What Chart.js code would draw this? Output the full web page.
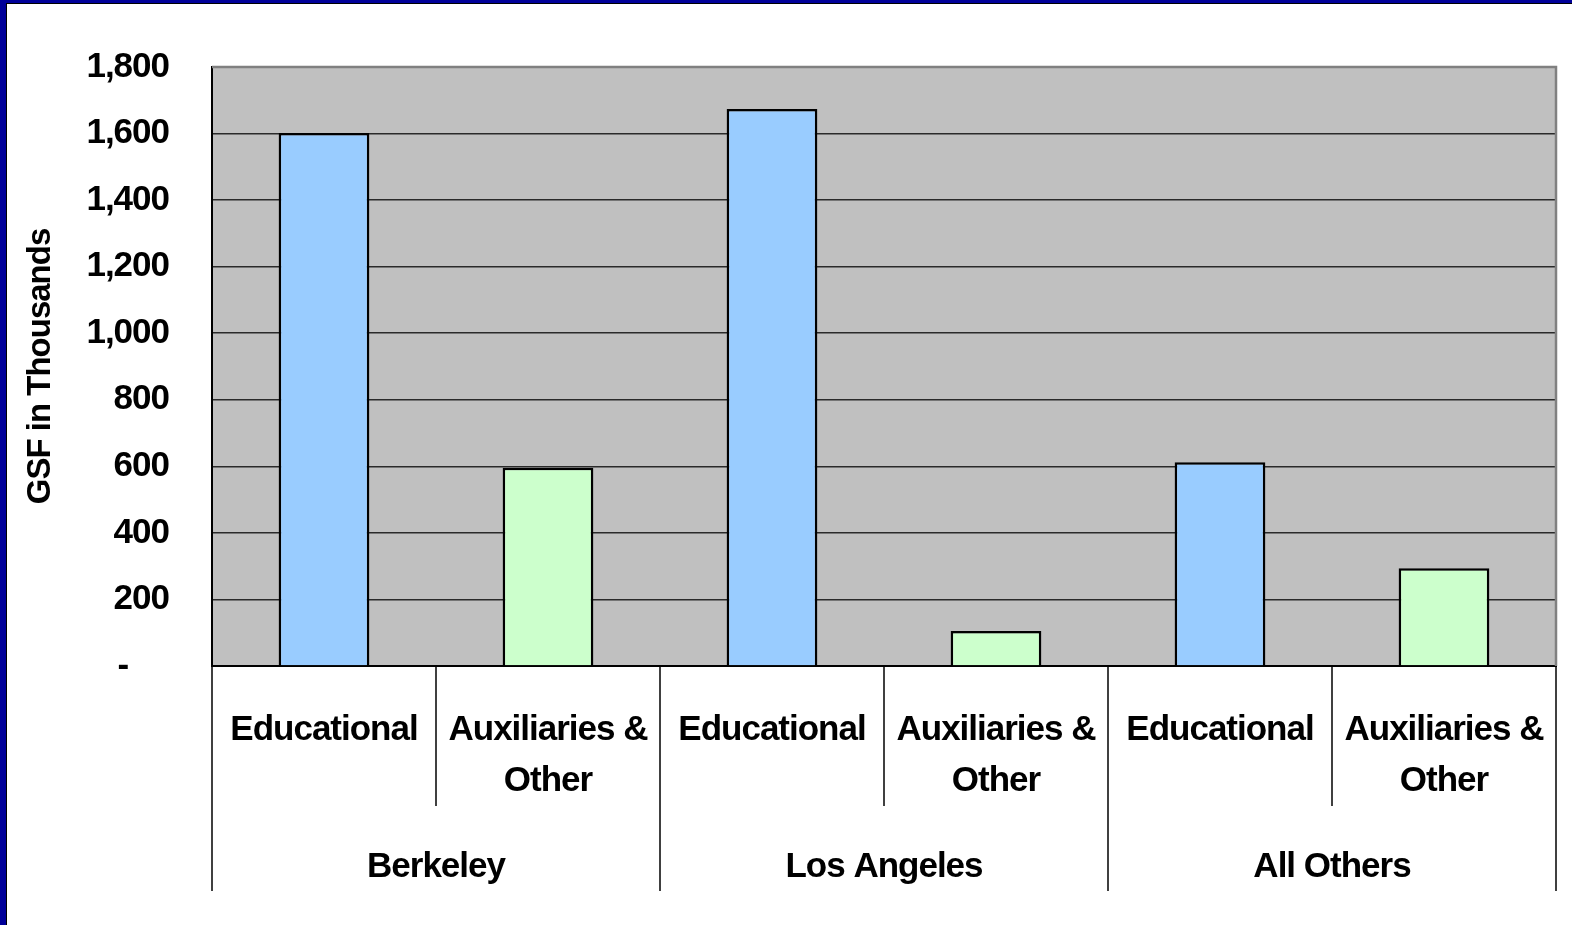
<!DOCTYPE html>
<html>
<head>
<meta charset="utf-8">
<script src="https://cdn.jsdelivr.net/npm/chart.js@4"></script>
<style>
  html, body { margin:0; padding:0; background:#fff; }
  #frame { position:absolute; left:0; top:0; width:1572px; height:925px; box-sizing:border-box;
           border-left:6px solid #000099; border-top:3px solid #000099; }
  #inner { position:absolute; left:0; top:0; right:0; bottom:0; border-left:1px solid #000; border-top:1px solid #000; background:#fff; }
  #wrap { position:absolute; left:1px; top:1px; width:1565px; height:921px; }
</style>
</head>
<body>
<div id="frame"><div id="inner"><div id="wrap"><canvas id="c"></canvas></div></div></div>
<script>
const groups = ['Berkeley', 'Los Angeles', 'All Others'];
const subCategories = ['Educational', ['Auxiliaries &', 'Other']];
const educational = [1602, 1674, 612];
const auxiliaries = [596, 105, 294];
const yTicks = [0, 200, 400, 600, 800, 1000, 1200, 1400, 1600, 1800];
const yTitle = 'GSF in Thousands';

const labels = [];
const eduData = [];
const auxData = [];
groups.forEach((g, i) => {
  labels.push(subCategories[0], subCategories[1]);
  eduData.push(educational[i], null);
  auxData.push(null, auxiliaries[i]);
});

const FONT = 'Liberation Sans, Arial, sans-serif';

const deco = {
  id: 'deco',
  beforeInit(chart) { chart.ctx.letterSpacing = '-1px'; },
  beforeLayout(chart) { chart.ctx.letterSpacing = '-1px'; },
  beforeDraw(chart) {
    const {ctx, chartArea: a} = chart;
    ctx.letterSpacing = '-1px';
    ctx.save();
    ctx.fillStyle = '#C0C0C0';
    ctx.fillRect(a.left, a.top, a.right - a.left, a.bottom - a.top);
    ctx.restore();
  },
  afterDraw(chart) {
    const {ctx, chartArea: a} = chart;
    const x = chart.scales.x;
    ctx.save();
    ctx.strokeStyle = '#808080';
    ctx.lineWidth = 2.5;
    ctx.beginPath();
    ctx.moveTo(a.left, a.top); ctx.lineTo(a.right, a.top); ctx.lineTo(a.right, a.bottom);
    ctx.stroke();
    const half = (x.getPixelForValue(1) - x.getPixelForValue(0)) / 2;
    ctx.strokeStyle = '#000';
    ctx.lineWidth = 1.5;
    for (let i = 0; i < labels.length; i++) {
      const left = x.getPixelForValue(i) - half;
      const outer = i % 2 === 0;
      ctx.beginPath();
      ctx.moveTo(left, a.bottom);
      ctx.lineTo(left, outer ? a.bottom + 225 : a.bottom + 140);
      ctx.stroke();
    }
    const rightEdge = x.getPixelForValue(labels.length - 1) + half;
    ctx.beginPath();
    ctx.moveTo(rightEdge, a.bottom);
    ctx.lineTo(rightEdge, a.bottom + 225);
    ctx.stroke();
    ctx.fillStyle = '#000';
    ctx.font = 'bold 35px ' + FONT;
    ctx.textAlign = 'center';
    ctx.textBaseline = 'middle';
    groups.forEach((g, i) => {
      const cx = (x.getPixelForValue(2 * i) + x.getPixelForValue(2 * i + 1)) / 2;
      ctx.fillText(g, cx, a.bottom + 201);
    });
    ctx.restore();
  }
};

new Chart(document.getElementById('c'), {
  type: 'bar',
  data: {
    labels: labels,
    datasets: [
      { label: 'Educational', data: eduData, backgroundColor: '#99CCFF', borderColor: '#000', borderWidth: 2.5 },
      { label: 'Auxiliaries & Other', data: auxData, backgroundColor: '#CCFFCC', borderColor: '#000', borderWidth: 2.5 }
    ]
  },
  options: {
    responsive: true,
    maintainAspectRatio: false,
    animation: false,
    layout: { padding: { left: 0, top: 62, right: 17, bottom: 0 } },
    datasets: { bar: { grouped: false, barPercentage: 0.405, categoryPercentage: 1 } },
    plugins: { legend: { display: false }, tooltip: { enabled: false } },
    scales: {
      x: {
        offset: true,
        grid: { display: false },
        border: { display: true, color: '#000', width: 2 },
        ticks: { color: '#000', font: { family: FONT, size: 35, weight: 'bold', lineHeight: 1.46 }, padding: 31, maxRotation: 0, autoSkip: false },
        afterFit(s) { s.height = 260; s.paddingLeft = 0; s.paddingRight = 0; }
      },
      y: {
        min: 0, max: 1800,
        afterBuildTicks(s) { s.ticks = yTicks.map(v => ({ value: v })); },
        grid: {
          drawTicks: false,
          color: ctx => (ctx.tick && ctx.tick.value === 1800) ? '#808080' : '#2a2a2a',
          lineWidth: 1.5
        },
        border: { display: true, color: '#000', width: 2 },
        ticks: {
          color: '#000', padding: 43,
          font: { family: FONT, size: 35, weight: 'bold' },
          callback: v => v === 0 ? '-    \u2009' : v.toLocaleString('en-US')
        },
        title: { display: true, text: yTitle, color: '#000', font: { family: FONT, size: 33, weight: 'bold' }, padding: { top: 13, bottom: 0 } },
        afterFit(s) { s.width = 204; s.paddingTop = 0; s.paddingBottom = 0; }
      }
    }
  },
  plugins: [deco]
});
</script>
</body>
</html>
